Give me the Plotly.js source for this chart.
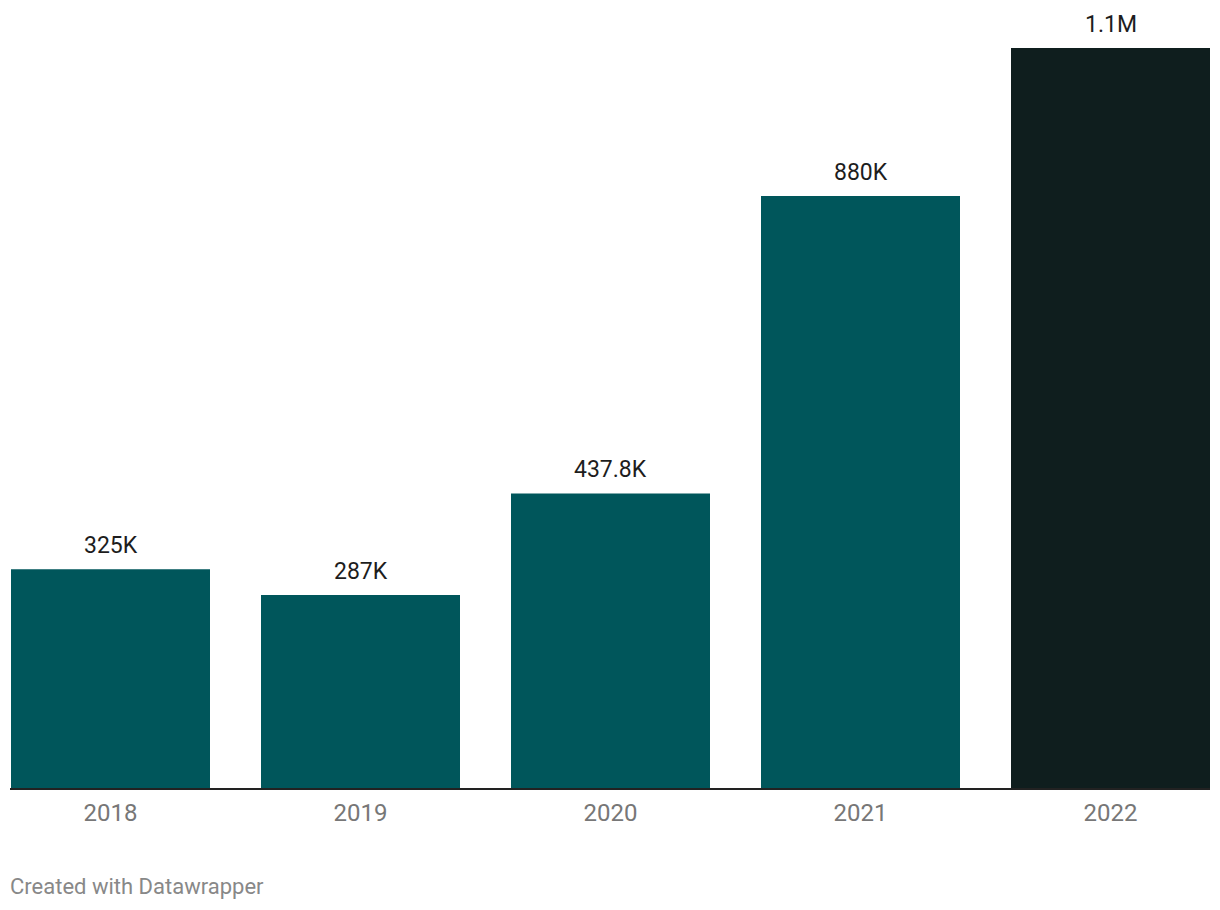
<!DOCTYPE html>
<html>
<head>
<meta charset="utf-8">
<script src="https://cdn.plot.ly/plotly-3.0.1.min.js"></script>
<style>
  html, body { margin: 0; padding: 0; background: #fff; }
  #chart { width: 1220px; height: 910px; }
</style>
</head>
<body>
<div id="chart"></div>
<script>
var years = ['2018', '2019', '2020', '2021', '2022'];
var values = [325000, 287000, 437800, 880000, 1100000];
var labels = ['325K', '287K', '437.8K', '880K', '1.1M'];
var barColors = ['#00565b', '#00565b', '#00565b', '#00565b', '#0f1e1e'];

var trace = {
    x: years,
    y: values,
    type: 'bar',
    marker: { color: barColors },
    hoverinfo: 'none'
};

// value labels above each bar (category index on the x axis)
var annotations = years.map(function (yr, i) {
    return {
        x: i,
        y: values[i],
        text: labels[i],
        showarrow: false,
        yanchor: 'bottom',
        yshift: 8,
        font: { family: 'Roboto', size: 23, color: '#1d1d1d' }
    };
});

annotations.push({
    xref: 'paper', yref: 'paper',
    x: 0, y: 0,
    xanchor: 'left', yanchor: 'middle',
    xshift: -2, yshift: -98,
    text: 'Created with Datawrapper',
    showarrow: false,
    font: { family: 'Roboto', size: 22, color: '#888888' }
});

var layout = {
    width: 1220,
    height: 910,
    margin: { l: 10, r: 10, t: 48, b: 122 },
    paper_bgcolor: '#ffffff',
    plot_bgcolor: '#ffffff',
    bargap: 0.204,
    showlegend: false,
    font: { family: 'Roboto', size: 22, color: '#333' },
    xaxis: {
        type: 'category',
        range: [-0.402, 4.398],
        showgrid: false,
        zeroline: false,
        showline: true,
        linecolor: '#222222',
        linewidth: 2,
        ticks: '',
        ticklabelstandoff: 2,
        tickfont: { family: 'Roboto', size: 24, color: '#777777' },
        fixedrange: true
    },
    yaxis: {
        range: [0, 1100000],
        showgrid: false,
        zeroline: false,
        showticklabels: false,
        fixedrange: true
    },
    annotations: annotations
};

Plotly.newPlot('chart', [trace], layout, { displayModeBar: false, staticPlot: true });
</script>
</body>
</html>
